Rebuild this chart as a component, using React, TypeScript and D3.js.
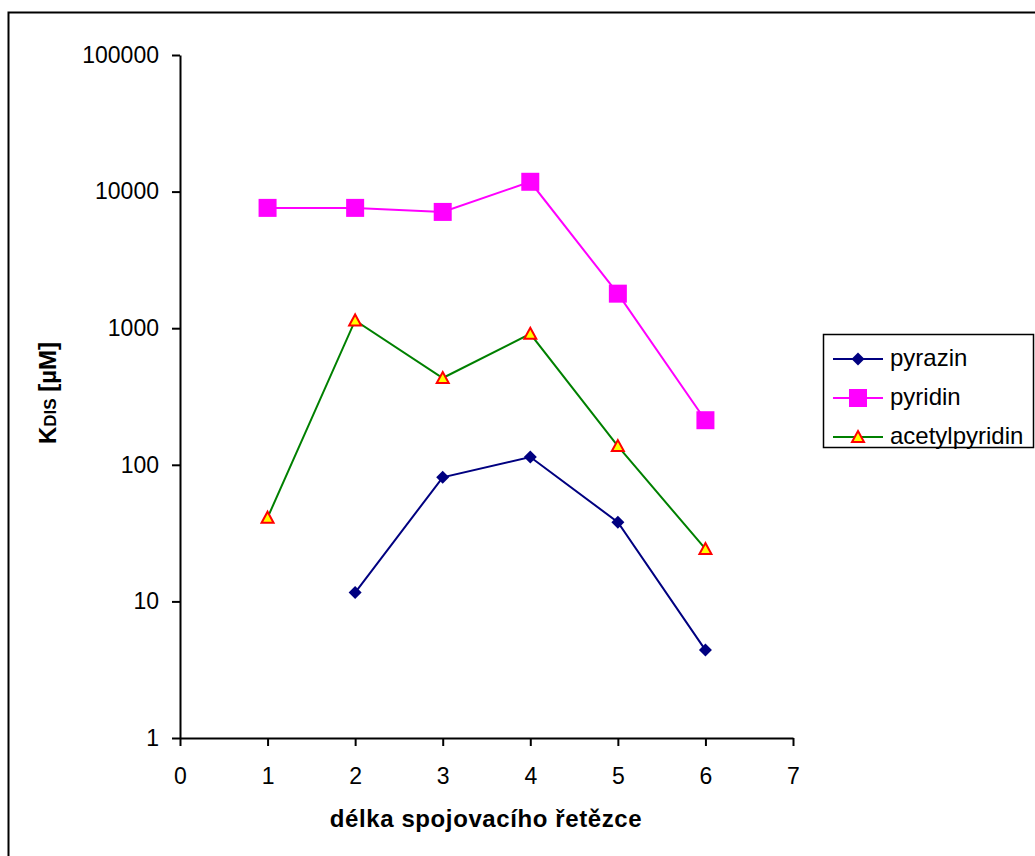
import React, { useEffect, useRef } from 'react';
import * as d3 from 'd3';

// chain length categories and measured K_DIS values (µM)
const lengths = [1, 2, 3, 4, 5, 6];
const pyrazin = [null, 11.6, 81, 114, 38, 4.4];
const pyridin = [7600, 7600, 7100, 11800, 1790, 212];
const acetylpyridin = [41, 1140, 432, 910, 137, 24.2];
const yTicks = [1, 10, 100, 1000, 10000, 100000];
const xTicks = [0, 1, 2, 3, 4, 5, 6, 7];

const series = [
  { name: 'pyrazin', values: pyrazin, color: '#000080', marker: 'diamond' },
  { name: 'pyridin', values: pyridin, color: '#ff00ff', marker: 'square' },
  { name: 'acetylpyridin', values: acetylpyridin, color: '#008000', marker: 'triangle' },
];

/* drawMarker: appends a marker of the given kind centered at cx,cy */
function drawMarker(g, kind, cx, cy, color) {
  if (kind === 'square') {
    g.append('rect').attr('x', cx - 9).attr('y', cy - 9).attr('width', 18).attr('height', 18).attr('fill', color);
  } else if (kind === 'diamond') {
    g.append('path').attr('d', `M${cx},${cy - 6.5}L${cx + 6.5},${cy}L${cx},${cy + 6.5}L${cx - 6.5},${cy}Z`).attr('fill', color);
  } else {
    g.append('path').attr('d', `M${cx},${cy - 6}L${cx + 6},${cy + 5}L${cx - 6},${cy + 5}Z`)
      .attr('fill', '#ffff00').attr('stroke', '#ff0000').attr('stroke-width', 2);
  }
}

export default function App() {
  const ref = useRef(null);
  const width = 1035, height = 856;
  useEffect(() => {
    const svg = d3.select(ref.current);
    svg.selectAll('*').remove();
    const font = 'Arial, "Liberation Sans", sans-serif';

    // outer chart frame
    svg.append('rect').attr('x', 8.5).attr('y', 12.5).attr('width', 1040).attr('height', 860)
      .attr('fill', 'white').attr('stroke', 'black').attr('stroke-width', 2);

    const x = d3.scaleLinear().domain([0, 7]).range([180, 793]);
    const y = d3.scaleLog().domain([1, 100000]).range([738, 55]);

    // y axis
    const yAxis = svg.append('g').attr('transform', 'translate(180,0)')
      .call(d3.axisLeft(y).tickValues(yTicks).tickFormat(d3.format('d')).tickSize(8).tickSizeOuter(0));
    yAxis.select('.domain').attr('stroke-width', 2);
    yAxis.selectAll('line').attr('stroke-width', 2);
    yAxis.selectAll('text').attr('font-family', font).attr('font-size', 23).attr('fill', '#000').attr('x', -21);

    // x axis
    const xAxis = svg.append('g').attr('transform', 'translate(0,738)')
      .call(d3.axisBottom(x).tickValues(xTicks).tickFormat(d3.format('d')).tickSize(8).tickSizeOuter(0));
    xAxis.select('.domain').attr('stroke-width', 2);
    xAxis.selectAll('line').attr('stroke-width', 2);
    xAxis.selectAll('text').attr('font-family', font).attr('font-size', 23).attr('fill', '#000').attr('y', 46).attr('dy', 0);

    // axis titles
    svg.append('text').attr('x', 486).attr('y', 827).attr('text-anchor', 'middle')
      .attr('font-family', font).attr('font-size', 24).attr('font-weight', 'bold').attr('letter-spacing', 0.6)
      .text('délka spojovacího řetězce');
    const yt = svg.append('text').attr('transform', 'translate(56,393) rotate(-90)').attr('text-anchor', 'middle')
      .attr('font-family', font).attr('font-size', 24).attr('font-weight', 'bold');
    yt.append('tspan').text('K');
    yt.append('tspan').attr('font-size', 17).text('DIS');
    yt.append('tspan').text(' [µM]');

    // series lines and markers
    series.forEach(s => {
      const pts = lengths.map((l, i) => ({ l, v: s.values[i] })).filter(p => p.v != null);
      const line = d3.line().x(p => x(p.l)).y(p => y(p.v));
      svg.append('path').attr('d', line(pts)).attr('fill', 'none').attr('stroke', s.color).attr('stroke-width', 2);
      const g = svg.append('g');
      pts.forEach(p => drawMarker(g, s.marker, x(p.l), y(p.v), s.color));
    });

    // legend
    const lg = svg.append('g');
    lg.append('rect').attr('x', 823.5).attr('y', 334.5).attr('width', 210).attr('height', 113)
      .attr('fill', 'white').attr('stroke', 'black').attr('stroke-width', 1.5);
    series.forEach((s, i) => {
      const cy = 359 + i * 39;
      lg.append('line').attr('x1', 833).attr('x2', 883).attr('y1', cy).attr('y2', cy).attr('stroke', s.color).attr('stroke-width', 2);
      drawMarker(lg, s.marker, 858, cy, s.color);
      lg.append('text').attr('x', 890).attr('y', cy + 7).attr('font-family', font).attr('font-size', 24).text(s.name);
    });
  }, []);

  return (
    <svg ref={ref} width={width} height={height} style={{ position: 'absolute', left: 0, top: 0 }} />
  );
}
